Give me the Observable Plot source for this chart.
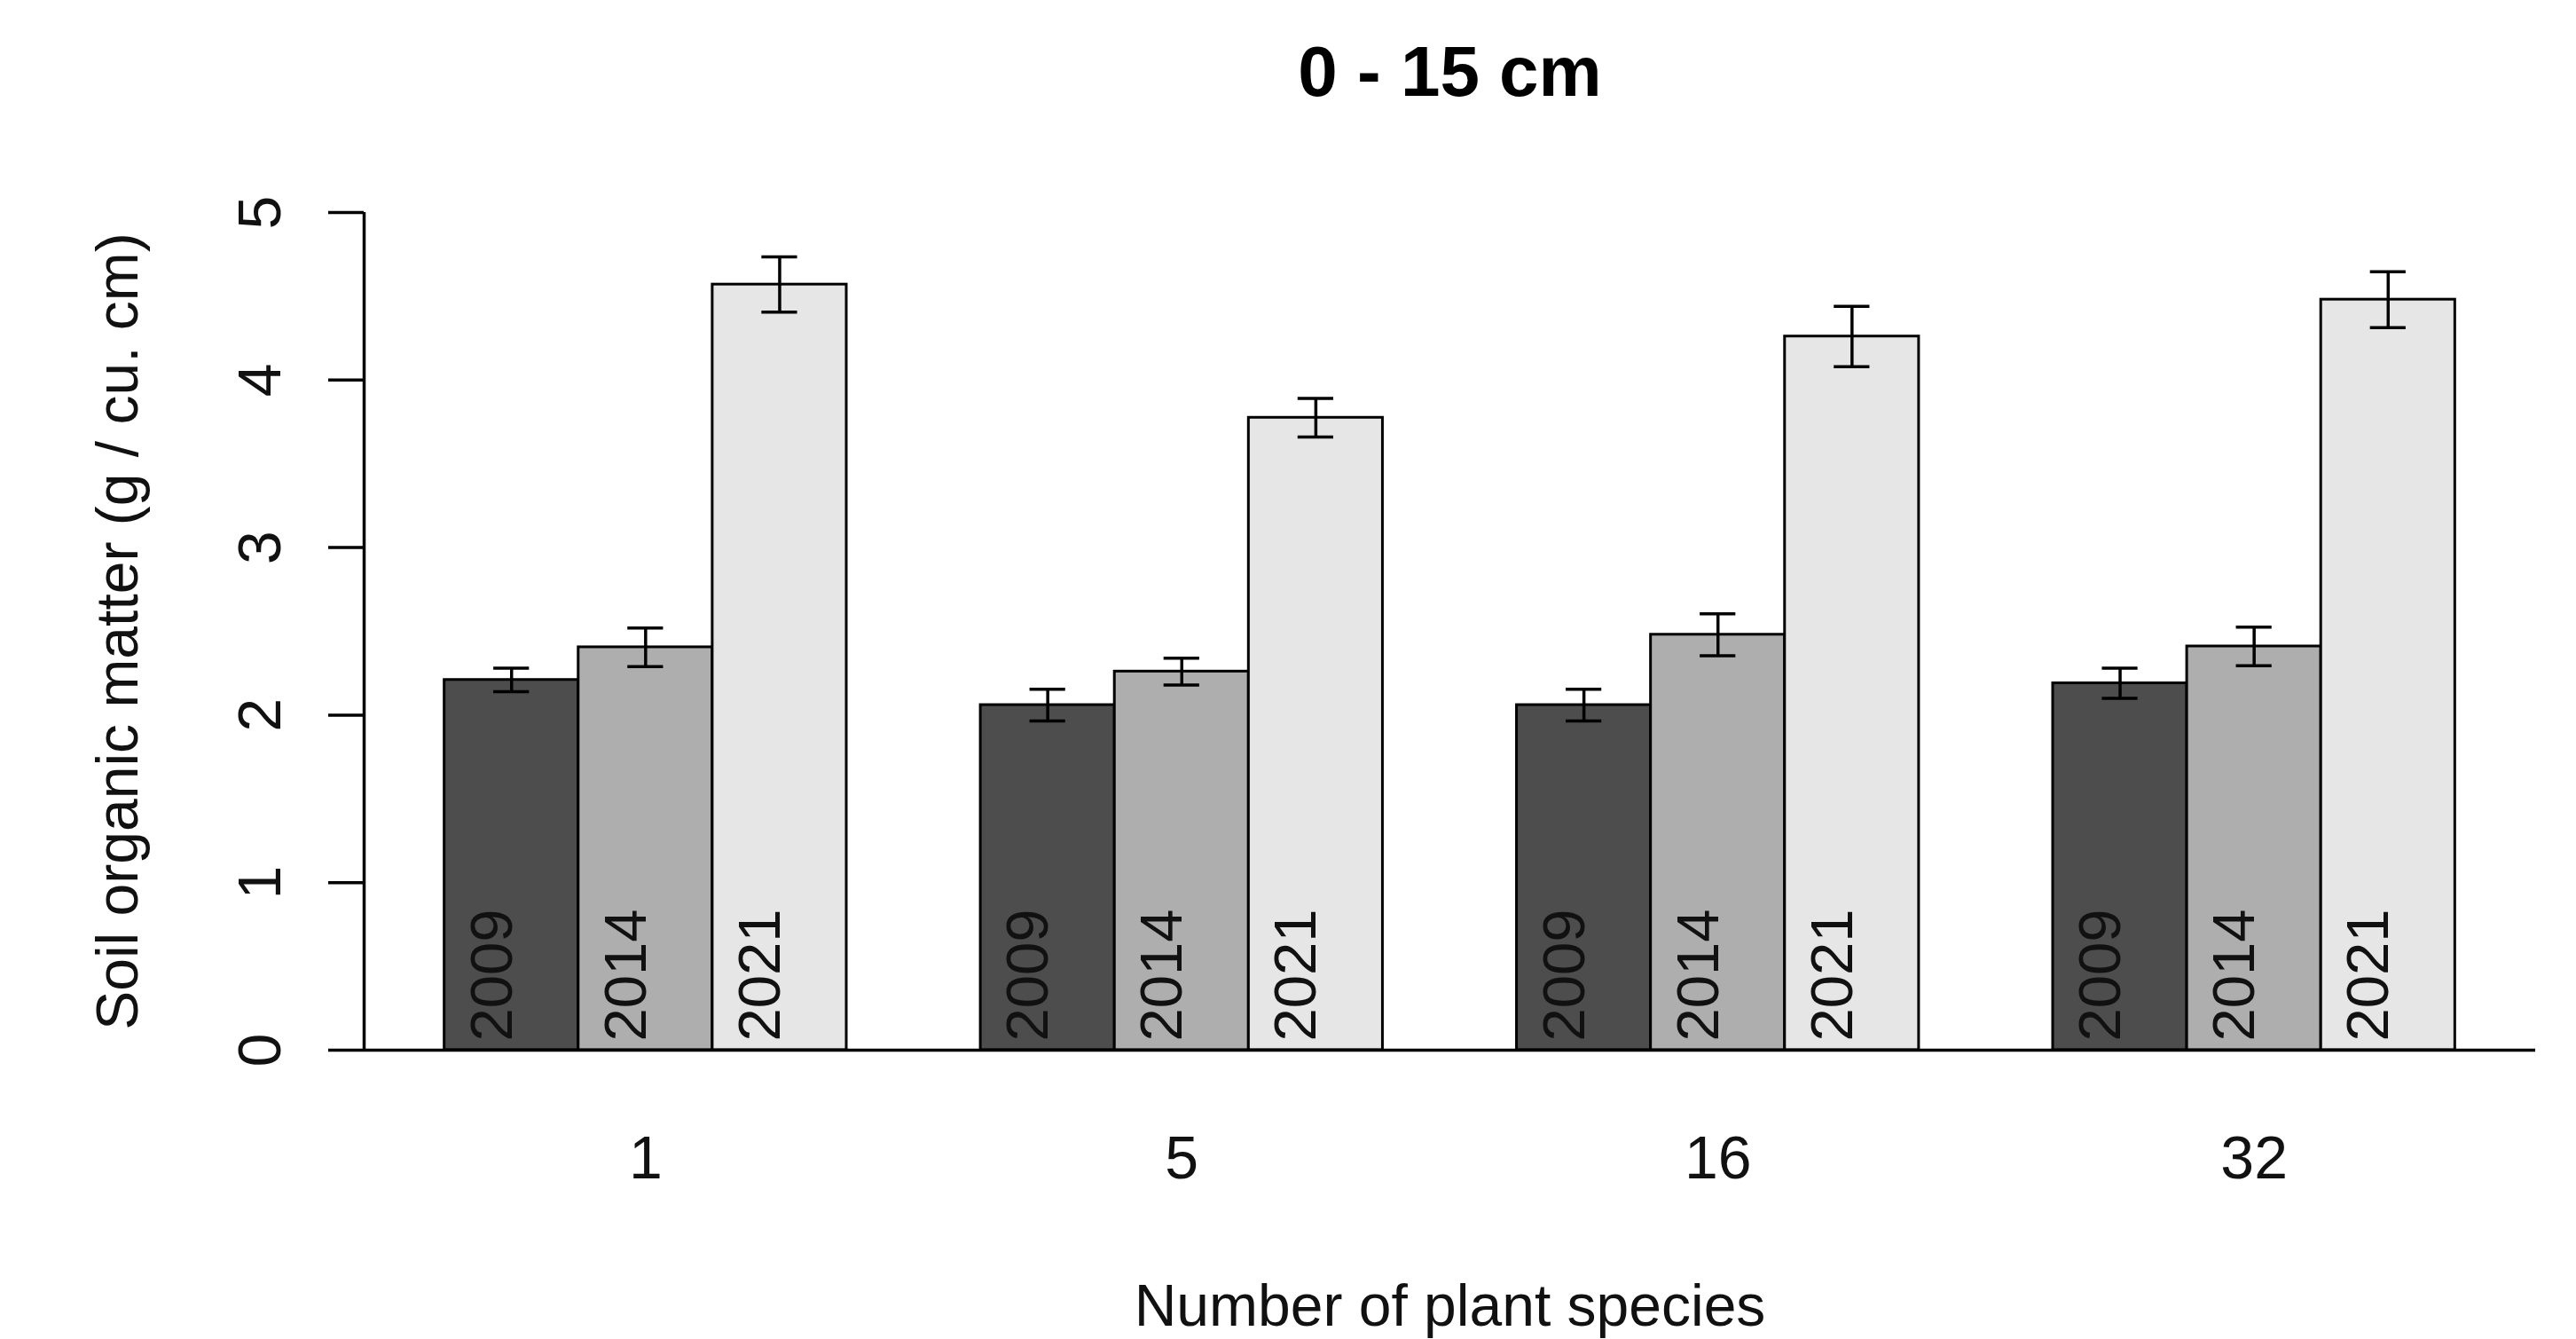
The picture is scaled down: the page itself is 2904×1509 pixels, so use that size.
<!DOCTYPE html>
<html>
<head>
<meta charset="utf-8">
<script src="https://cdn.jsdelivr.net/npm/d3@7"></script>
<script src="https://cdn.jsdelivr.net/npm/@observablehq/plot@0.6"></script>
<style>
  html, body { margin: 0; padding: 0; background: white; }
</style>
</head>
<body>
<div id="chart"></div>
<script>
// ---- data ----
const title = "0 - 15 cm";
const xLabel = "Number of plant species";
const yLabel = "Soil organic matter (g / cu. cm)";
const species = ["1", "5", "16", "32"];
const years = ["2009", "2014", "2021"];
const mean2009 = [2.21, 2.06, 2.06, 2.19];
const mean2014 = [2.405, 2.26, 2.48, 2.41];
const mean2021 = [4.57, 3.775, 4.26, 4.48];
const se2009 = [0.07, 0.095, 0.095, 0.09];
const se2014 = [0.115, 0.08, 0.125, 0.115];
const se2021 = [0.165, 0.115, 0.18, 0.167];
const yTicks = [0, 1, 2, 3, 4, 5];
const grays = ["#4D4D4D", "#AEAEAE", "#E6E6E6"];

// ---- build table (R barplot layout: beside = TRUE, space = c(0, 1)) ----
const means = [mean2009, mean2014, mean2021];
const ses = [se2009, se2014, se2021];
const step = years.length + 1;
const rows = [];
species.forEach((s, gi) => {
  years.forEach((yr, yi) => {
    const left = gi * step + yi + 1;
    rows.push({
      species: s, year: yr,
      x1: left, x2: left + 1, mid: left + 0.5,
      value: means[yi][gi], se: ses[yi][gi]
    });
  });
});
const centers = species.map((s, gi) => gi * step + 1 + years.length / 2);
const firstLeft = d3.min(rows, d => d.x1);
const lastRight = d3.max(rows, d => d.x2);
const ext = 0.04 * (lastRight - firstLeft);
const xDomain = [firstLeft - ext, lastRight + ext]; // R's default 4% axis extension
const cap = 0.133;
const font = "'Liberation Sans', Arial, sans-serif";

const chart = Plot.plot({
  width: 2904,
  height: 1509,
  marginLeft: 410,
  marginRight: 46,
  marginTop: 239,
  marginBottom: 326,
  style: { fontFamily: font, fontSize: "68px", color: "black", background: "white" },
  x: { type: "linear", domain: xDomain, axis: null },
  y: { domain: [0, 5], axis: null },
  color: { domain: years, range: grays },
  marks: [
    Plot.rectY(rows, { x1: "x1", x2: "x2", y1: 0, y2: "value", fill: "year", stroke: "black", strokeWidth: 3 }),
    Plot.ruleX(rows, { x: "mid", y1: d => d.value - d.se, y2: d => d.value + d.se, stroke: "black", strokeWidth: 3.5 }),
    Plot.ruleY(rows, { y: d => d.value - d.se, x1: d => d.mid - cap, x2: d => d.mid + cap, stroke: "black", strokeWidth: 3.5 }),
    Plot.ruleY(rows, { y: d => d.value + d.se, x1: d => d.mid - cap, x2: d => d.mid + cap, stroke: "black", strokeWidth: 3.5 }),
    Plot.text(rows, { x: "mid", y: 0, text: "year", rotate: -90, textAnchor: "start", lineAnchor: "bottom", dy: -10, fill: "#111", fontSize: 67 }),
    Plot.ruleY([0], { stroke: "black", strokeWidth: 3.5 }),
    Plot.ruleX([xDomain[0]], { y1: yTicks[0], y2: yTicks[yTicks.length - 1], stroke: "black", strokeWidth: 3.5 }),
    Plot.axisY({ ticks: yTicks, tickFormat: d3.format("d"), tickSize: 40, tickPadding: 55, tickRotate: -90, strokeWidth: 3.5, label: null, fontSize: 68, fill: "#111" }),
    Plot.axisX({ ticks: centers, tickFormat: d => species[centers.indexOf(d)], tickSize: 0, tickPadding: 96, label: null, fontSize: 68, fill: "#111" }),
    Plot.text([yLabel], { frameAnchor: "left", rotate: -90, dx: -302, lineAnchor: "top", textAnchor: "middle", fontSize: 66, fill: "#111" }),
    Plot.text([xLabel], { frameAnchor: "bottom", dy: 310, lineAnchor: "bottom", fontSize: 66, fill: "#111" }),
    Plot.text([title], { frameAnchor: "top", dy: -132, lineAnchor: "bottom", fontWeight: "bold", fontSize: 80, fill: "black" })
  ]
});
document.getElementById("chart").appendChild(chart);
</script>
</body>
</html>
